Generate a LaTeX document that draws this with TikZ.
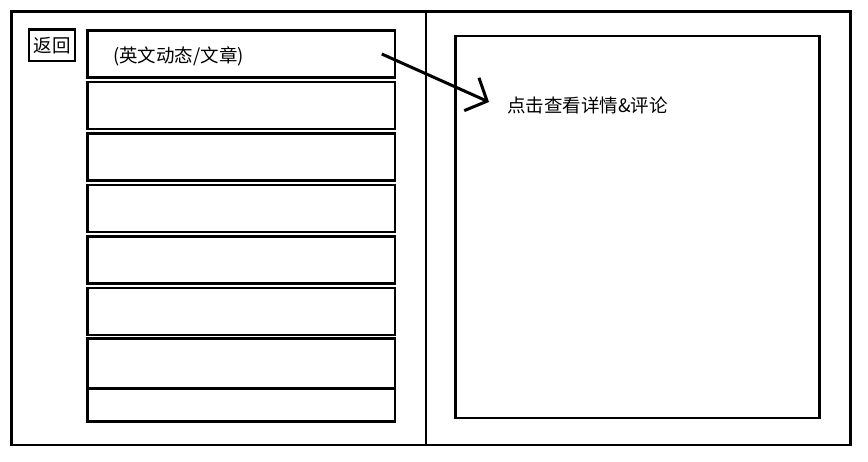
\documentclass[tikz,border=0pt]{standalone}
\usepackage{fontspec}
\setmainfont{Noto Sans CJK SC}
\usetikzlibrary{arrows.meta,positioning}
\tikzset{>={Straight Barb[length=17pt,width=36pt]}}
\tikzset{
  frame/.style={draw,line width=2.5pt,inner sep=0pt,outer sep=0pt},
  row/.style={draw,line width=2.5pt,minimum width=307.5pt,inner sep=0pt,
              outer sep=0pt,anchor=north west},
  caption/.style={inner sep=0pt,anchor=west,font=\fontsize{18.5}{22}\selectfont}
}

\begin{document}
\begin{tikzpicture}[x=1pt,y=-1pt]
\useasboundingbox (0,0) rectangle (868,461);
\node[frame,anchor=north west,minimum width=839.4pt,minimum height=433.7pt]
  (screen) at (11.3,11.3) {};
\draw[line width=2.5pt] (screen.north -| 425.8,0) -- (screen.south -| 425.8,0);
\node[frame,minimum width=46pt,minimum height=31.5pt,
      font=\fontsize{18.5}{22}\selectfont] (back) at (52,45.2) {返回};
\foreach \i in {1,...,6}
  \node[row,minimum height=47pt] (row\i) at (87.3,{30.5+51.5*(\i-1)}) {};
\node[row,minimum height=50pt] (row7) at (87.3,338.5) {};
\node[row,minimum height=33pt,below=0pt of row7.south west,anchor=north west]
  (row8) {};
\node[frame,anchor=north west,minimum width=364pt,minimum height=381.8pt]
  (detail) at (455.5,36.2) {};
\node[caption] (kind) at (113,56.5) {(英文动态/文章)};
\node[caption] (hint) at (507,105.5) {点击查看详情\&评论};
\draw[->,line width=3pt] ([xshift=-13pt]row1.east) --
  ([xshift=-18pt,yshift=3.5pt]hint.west);
\end{tikzpicture}
\end{document}
